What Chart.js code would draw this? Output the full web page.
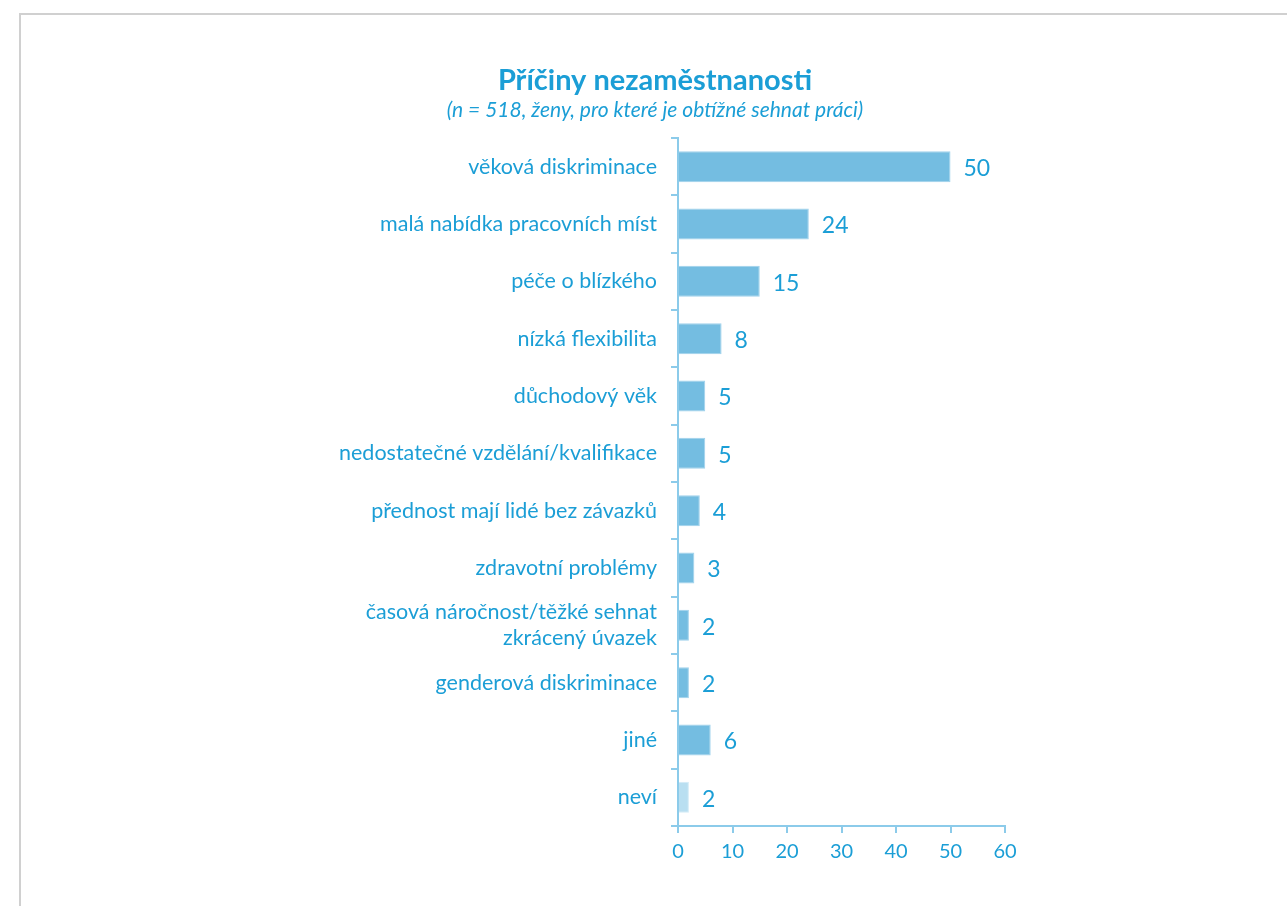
<!DOCTYPE html>
<html>
<head>
<meta charset="utf-8">
<script src="https://cdn.jsdelivr.net/npm/chart.js@4.4.1/dist/chart.umd.min.js"></script>
<style>
  html, body { margin: 0; padding: 0; background: #fff; }
  #wrap { position: relative; width: 1287px; height: 906px; overflow: hidden; }
  #frame { position: absolute; left: 19px; top: 13px; width: 1300px; height: 900px;
           border-left: 2px solid #d0d0d0; border-top: 2px solid #d0d0d0; }
  #c { position: absolute; left: 0; top: 0; }
</style>
</head>
<body>
<div id="wrap">
  <div id="frame"></div>
  <canvas id="c" width="1287" height="906"></canvas>
</div>
<script>
// data
const categories = [
  'věková diskriminace',
  'malá nabídka pracovních míst',
  'péče o blízkého',
  'nízká flexibilita',
  'důchodový věk',
  'nedostatečné vzdělání/kvalifikace',
  'přednost mají lidé bez závazků',
  'zdravotní problémy',
  ['časová náročnost/těžké sehnat', 'zkrácený úvazek'],
  'genderová diskriminace',
  'jiné',
  'neví'
];
const values = [50, 24, 15, 8, 5, 5, 4, 3, 2, 2, 6, 2];
const xTicks = [0, 10, 20, 30, 40, 50, 60];

const blue = '#1b9ed6';
const axisCol = '#8ccbea';
const barCol = categories.map((c, i) => i === categories.length - 1 ? '#b9dff1' : '#74bde1');
const barBorder = categories.map((c, i) => i === categories.length - 1 ? '#d3ebf7' : '#9fd2ec');

// value labels right of the bars
const valueLabels = {
  id: 'valueLabels',
  afterDatasetsDraw(chart) {
    const ctx = chart.ctx;
    const meta = chart.getDatasetMeta(0);
    ctx.save();
    ctx.font = '23px Lato';
    ctx.fillStyle = blue;
    ctx.textAlign = 'left';
    ctx.textBaseline = 'middle';
    meta.data.forEach((bar, i) => {
      ctx.fillText(values[i], bar.x + 13, bar.y + 2);
    });
    ctx.restore();
  }
};

new Chart(document.getElementById('c'), {
  type: 'bar',
  data: {
    labels: categories,
    datasets: [{
      data: values,
      backgroundColor: barCol,
      borderColor: barBorder,
      borderWidth: 1,
      categoryPercentage: 1,
      barPercentage: 0.54
    }]
  },
  options: {
    indexAxis: 'y',
    responsive: false,
    animation: false,
    layout: {
      padding: { top: 63, right: 282, bottom: 30, left: 305 }
    },
    plugins: {
      legend: { display: false },
      tooltip: { enabled: false },
      title: {
        display: true,
        text: 'Příčiny nezaměstnanosti',
        color: blue,
        font: { family: 'Lato', size: 29, weight: 'bold' },
        padding: { top: 0, bottom: 0 }
      },
      subtitle: {
        display: true,
        text: '(n = 518, ženy, pro které je obtížné sehnat práci)',
        color: blue,
        font: { family: 'Lato', size: 21, style: 'italic' },
        padding: { top: 0, bottom: 15 }
      }
    },
    scales: {
      x: {
        min: 0,
        max: 60,
        afterBuildTicks: (s) => { s.ticks = xTicks.map(v => ({ value: v })); },
        afterFit: (s) => { s.height = 50; },
        border: { color: axisCol, width: 2 },
        grid: { drawOnChartArea: false, drawTicks: true, tickLength: 7, color: axisCol, lineWidth: 2 },
        ticks: { color: blue, font: { family: 'Lato', size: 20 }, padding: 7 }
      },
      y: {
        afterFit: (s) => { s.width = 373; },
        border: { color: axisCol, width: 2 },
        grid: { offset: true, drawOnChartArea: false, drawTicks: true, tickLength: 7, color: axisCol, lineWidth: 2 },
        ticks: { color: blue, font: { family: 'Lato', size: 21.5, lineHeight: 1.2 }, padding: 14 }
      }
    }
  },
  plugins: [valueLabels]
});
</script>
</body>
</html>
